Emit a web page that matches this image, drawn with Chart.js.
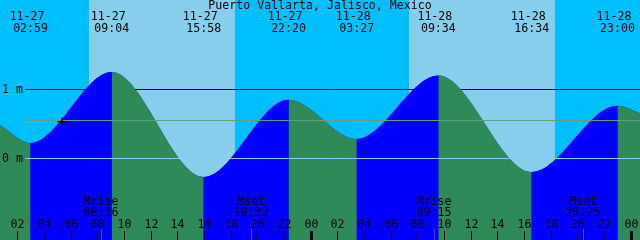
<!DOCTYPE html>
<html>
<head>
<meta charset="utf-8">
<script src="https://cdn.jsdelivr.net/npm/chart.js@4.4.1/dist/chart.umd.min.js"></script>
<style>
  html, body { margin: 0; padding: 0; background: #00bfff; }
</style>
</head>
<body>
<canvas id="tide" width="640" height="240"></canvas>
<script>
const title = "Puerto Vallarta, Jalisco, Mexico";
const startHour = 0.69;   // hours after 11-27 00:00
const spanHours = 48;

// high / low tides
const tideDates = ["11-27", "11-27", "11-27", "11-27", "11-28", "11-28", "11-28", "11-28"];
const tideTimes = ["02:59", "09:04", "15:58", "22:20", "03:27", "09:34", "16:34", "23:00"];
const tideLevels = [0.22, 1.25, -0.27, 0.85, 0.28, 1.20, -0.20, 0.76];
const edgeLevels = [0.48, 0.65];   // water at left and right edge

const sunriseTimes = ["11-27 07:22", "11-28 07:22"];
const sunsetTimes = ["11-27 18:19", "11-28 18:19"];

const moonNames = ["Mrise", "Mset", "Mrise", "Mset"];
const moonTimes = ["11-27 08:16", "11-27 19:32", "11-28 09:15", "11-28 20:25"];

const hourTicks = [2, 4, 6, 8, 10, 12, 14, 16, 18, 20, 22, 24, 26, 28, 30, 32, 34, 36, 38, 40, 42, 44, 46, 48];
const hourLabels = ["02", "04", "06", "08", "10", "12", "14", "16", "18", "20", "22", "00",
                    "02", "04", "06", "08", "10", "12", "14", "16", "18", "20", "22", "00"];
const levelTicks = [1, 0];
const levelLabels = ["1 m", "0 m"];
const meanLevel = 0.55;
const nowTime = "11-27 05:20";
const nowLevel = 0.53;

const FONT = '11.6px "DejaVu Sans Mono", "Liberation Mono", monospace';
const RISING = "#0000ff";
const FALLING = "#2e8b57";

function toHours(stamp) {
  const [date, time] = stamp.split(" ");
  const day = parseInt(date.split("-")[1], 10) - 27;
  const [h, m] = time.split(":").map(Number);
  return day * 24 + h + m / 60;
}

const tidePoints = [{x: startHour, y: edgeLevels[0]}];
tideTimes.forEach((t, i) => tidePoints.push({x: toHours(tideDates[i] + " " + t), y: tideLevels[i]}));
tidePoints.push({x: startHour + spanHours, y: edgeLevels[1]});

const deco = {
  id: "tideDeco",
  beforeDatasetsDraw(chart) {
    const {ctx, chartArea: a, scales: {x, y}} = chart;
    ctx.save();
    ctx.fillStyle = "#00bfff";
    ctx.fillRect(a.left, a.top, a.width, a.height);
    ctx.fillStyle = "#87ceeb";
    sunriseTimes.forEach((s, i) => {
      const x0 = Math.round(x.getPixelForValue(toHours(s)));
      const x1 = Math.round(x.getPixelForValue(toHours(sunsetTimes[i])));
      ctx.fillRect(x0, a.top, x1 - x0, a.height);
    });
    // grid line behind the water
    ctx.strokeStyle = "#000";
    ctx.lineWidth = 1;
    const gy = Math.round(y.getPixelForValue(1)) + 0.5;
    ctx.beginPath();
    ctx.moveTo(25, gy);
    ctx.lineTo(a.right, gy);
    ctx.stroke();
    ctx.restore();
  },
  afterDatasetDraw(chart, args) {
    if (args.index !== 0) return;
    const {ctx, chartArea: a, scales: {y}} = chart;
    ctx.save();
    ctx.lineWidth = 1;
    const dy = Math.round(y.getPixelForValue(0)) + 0.5;
    ctx.strokeStyle = "#87cefa";
    ctx.beginPath(); ctx.moveTo(25, dy); ctx.lineTo(a.right, dy); ctx.stroke();
    const my = Math.round(y.getPixelForValue(meanLevel)) + 0.5;
    ctx.strokeStyle = "#5a9f86";
    ctx.beginPath(); ctx.moveTo(25, my); ctx.lineTo(a.right, my); ctx.stroke();
    ctx.restore();
  },
  afterDraw(chart) {
    const {ctx, scales: {x, y}} = chart;
    ctx.save();
    ctx.font = FONT;
    ctx.fillStyle = "#000";
    ctx.textBaseline = "middle";
    ctx.textAlign = "center";
    ctx.fillText(title, 320, 6);

    tideTimes.forEach((t, i) => {
      const px = x.getPixelForValue(toHours(tideDates[i] + " " + t));
      ctx.fillText(tideDates[i], px - 3.5, 17);
      ctx.fillText(t, px, 29);
    });

    moonTimes.forEach((s, i) => {
      const px = x.getPixelForValue(toHours(s));
      ctx.fillText(moonNames[i], px, 202);
      ctx.fillText(s.split(" ")[1], px, 213);
      ctx.fillStyle = "#555";
      ctx.fillRect(Math.round(px), 229, 1, 11);
      ctx.fillStyle = "#000";
    });

    hourTicks.forEach((h, i) => {
      const px = Math.round(x.getPixelForValue(h));
      ctx.fillText(hourLabels[i], px + 0.5, 225);
      if (hourLabels[i] === "00") ctx.fillRect(px - 1, 231, 3, 9);
      else ctx.fillRect(px, 231, 1, 9);
    });

    ctx.textAlign = "left";
    levelTicks.forEach((v, i) => {
      ctx.fillText(levelLabels[i], 2, Math.round(y.getPixelForValue(v)) + 0.5);
    });
    ctx.restore();
  }
};

const waterStyle = {
  borderWidth: 0,
  borderColor: "rgba(0,0,0,0)",
  pointRadius: 0,
  cubicInterpolationMode: "monotone",
  fill: "start"
};

new Chart(document.getElementById("tide"), {
  type: "line",
  data: {
    datasets: [
      {
        ...waterStyle,
        label: "tide",
        data: tidePoints,
        order: 1,
        backgroundColor: FALLING,
        segment: {
          backgroundColor: c => c.p1.parsed.y > c.p0.parsed.y ? RISING : FALLING
        }
      },
      {
        label: "now",
        data: [{x: toHours(nowTime), y: nowLevel}],
        order: 0,
        showLine: false,
        pointStyle: "cross",
        pointRadius: 4,
        borderColor: "#000",
        borderWidth: 1.5
      },
      {
        // solid underlay so the colour seams do not show the sky through
        ...waterStyle,
        label: "underlay",
        data: tidePoints,
        order: 2,
        backgroundColor: RISING
      }
    ]
  },
  options: {
    responsive: false,
    animation: false,
    devicePixelRatio: 1,
    layout: {padding: 0, autoPadding: false},
    plugins: {legend: {display: false}, tooltip: {enabled: false}},
    scales: {
      x: {type: "linear", min: startHour, max: startHour + spanHours, display: false},
      y: {min: -1.184, max: 2.294, display: false}
    }
  },
  plugins: [deco]
});
</script>
</body>
</html>
